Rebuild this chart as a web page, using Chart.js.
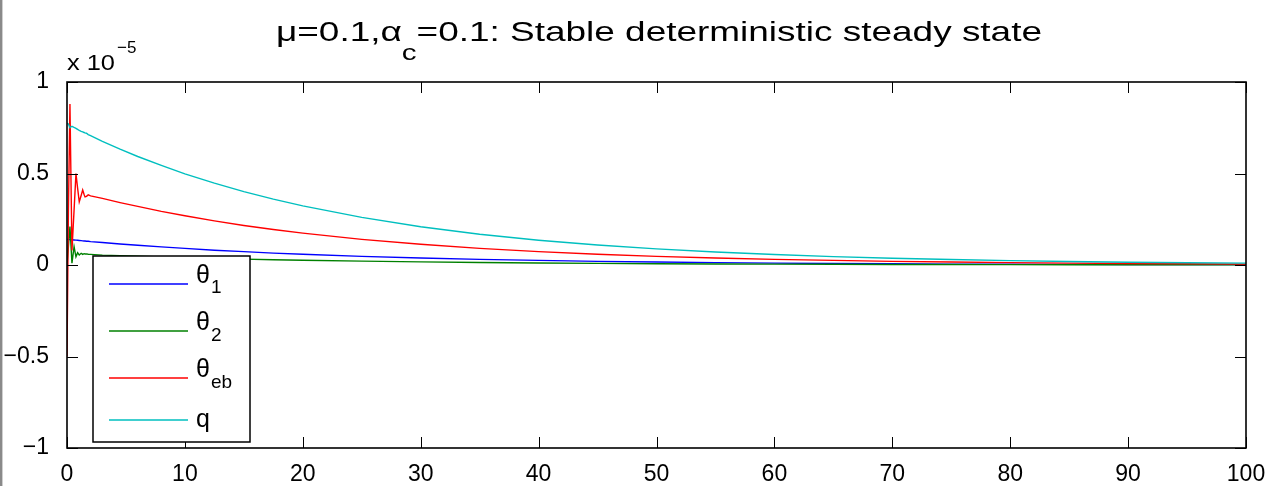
<!DOCTYPE html>
<html>
<head>
<meta charset="utf-8">
<script src="https://cdn.jsdelivr.net/npm/chart.js@4.4.1/dist/chart.umd.min.js"></script>
<style>
  html, body { margin: 0; padding: 0; background: #fff; }
  #wrap { position: relative; width: 1272px; height: 486px; overflow: hidden; }
  #c { position: absolute; left: 0; top: 0; }
  #ov { position: absolute; left: 0; top: 0; pointer-events: none; }
  text { font-family: 'Liberation Sans', Arial, Helvetica, sans-serif; fill: #000; }
</style>
</head>
<body>
<div id="wrap">
  <canvas id="c" width="1272" height="486"></canvas>
  <svg id="ov" width="1272" height="486" xmlns="http://www.w3.org/2000/svg">
    <rect x="0" y="0" width="2" height="486" fill="#8a8a8a"/>
    <rect x="2" y="0" width="1" height="486" fill="#cfcfcf"/>
    <text x="276" y="41" font-size="27.5" textLength="766" lengthAdjust="spacingAndGlyphs">μ=0.1,α<tspan font-size="22" dy="19">c</tspan><tspan dy="-19">=0.1: Stable deterministic steady state</tspan></text>
    <text x="67" y="70" font-size="22" textLength="48" lengthAdjust="spacingAndGlyphs">x 10</text>
    <text x="117" y="53" font-size="17">−5</text>
    <g id="legend">
      <rect x="93" y="256" width="157" height="186" fill="#fff" stroke="#000" stroke-width="1.5"/>
    </g>
  </svg>
</div>
<script>
// ---- data (values in units of 1e-5) ----
const tValues = [0, 0.12, 0.25, 0.42, 0.6, 0.76, 0.9, 1.04, 1.2, 1.33, 1.45, 1.53, 1.65, 1.8, 2,
  3, 4.5, 6, 8, 10, 12.5, 15, 17.5, 20, 25, 30, 35, 40, 45, 50, 55, 60, 65, 70, 75, 80, 85, 90, 95, 100];
const theta1 = [0.14, 0.14, 0.139, 0.138, 0.137, 0.136, 0.135, 0.134, 0.133, 0.132, 0.131, 0.131, 0.130, 0.130, 0.128,
  0.123, 0.115, 0.108, 0.099, 0.091, 0.081, 0.073, 0.065, 0.059, 0.047, 0.038, 0.031, 0.025, 0.020, 0.016,
  0.013, 0.010, 0.008, 0.007, 0.005, 0.004, 0.0035, 0.003, 0.002, 0.002];
const theta2 = [0, 0.1, 0.21, 0.01, 0.1, 0.045, 0.067, 0.055, 0.064, 0.058, 0.062, 0.060, 0.061, 0.059, 0.058,
  0.054, 0.051, 0.048, 0.044, 0.040, 0.036, 0.032, 0.029, 0.026, 0.021, 0.017, 0.0135, 0.011, 0.009, 0.007,
  0.0057, 0.0046, 0.0037, 0.003, 0.0024, 0.0019, 0.0015, 0.0012, 0.001, 0.0008];
const thetaEb = [-0.5, 0.3, 0.88, 0.08, 0.3, 0.5, 0.42, 0.345, 0.38, 0.41, 0.385, 0.372, 0.375, 0.383, 0.378,
  0.364, 0.341, 0.320, 0.293, 0.269, 0.241, 0.216, 0.194, 0.174, 0.140, 0.113, 0.091, 0.073, 0.059, 0.047,
  0.038, 0.031, 0.025, 0.020, 0.016, 0.013, 0.010, 0.008, 0.007, 0.005];
const qValues = [0.775, 0.77, 0.75, 0.758, 0.752, 0.747, 0.741, 0.735, 0.73, 0.727, 0.724, 0.722, 0.72, 0.713, 0.707,
  0.676, 0.633, 0.593, 0.544, 0.498, 0.447, 0.401, 0.360, 0.323, 0.260, 0.209, 0.168, 0.135, 0.109, 0.088,
  0.071, 0.057, 0.046, 0.037, 0.030, 0.024, 0.019, 0.015, 0.012, 0.010];

const xTickValues = [0, 10, 20, 30, 40, 50, 60, 70, 80, 90, 100];
const xTickLabels = ['0', '10', '20', '30', '40', '50', '60', '70', '80', '90', '100'];
const yTickValues = [-1, -0.5, 0, 0.5, 1];
const yTickLabels = ['−1', '−0.5', '0', '0.5', '1'];

const seriesNames = ['θ1', 'θ2', 'θeb', 'q'];
const seriesColors = ['#0000ff', '#008000', '#ff0000', '#00bfbf'];
const seriesData = [theta1, theta2, thetaEb, qValues];

// ---- legend (SVG text, with subscripts) ----
(function buildLegend() {
  const g = document.getElementById('legend');
  const NS = 'http://www.w3.org/2000/svg';
  const rows = [
    { y: 284, main: 'θ', sub: '1', base: 283, subBase: 293 },
    { y: 331, main: 'θ', sub: '2', base: 330, subBase: 341 },
    { y: 378, main: 'θ', sub: 'eb', base: 377, subBase: 388 },
    { y: 420, main: 'q', sub: '', base: 427, subBase: 0 }
  ];
  rows.forEach((r, i) => {
    const ln = document.createElementNS(NS, 'line');
    ln.setAttribute('x1', 109); ln.setAttribute('x2', 188);
    ln.setAttribute('y1', r.y); ln.setAttribute('y2', r.y);
    ln.setAttribute('stroke', seriesColors[i]); ln.setAttribute('stroke-width', 1.3);
    g.appendChild(ln);
    const t = document.createElementNS(NS, 'text');
    t.setAttribute('x', 196); t.setAttribute('y', r.base); t.setAttribute('font-size', 25);
    t.textContent = r.main;
    g.appendChild(t);
    if (r.sub) {
      const s = document.createElementNS(NS, 'text');
      s.setAttribute('x', 211); s.setAttribute('y', r.subBase); s.setAttribute('font-size', 19);
      s.textContent = r.sub;
      g.appendChild(s);
    }
  });
})();

// ---- box + inward ticks plugin ----
const boxPlugin = {
  id: 'matlabBox',
  afterDatasetsDraw(chart) {
    const { ctx, chartArea: a, scales } = chart;
    ctx.save();
    ctx.strokeStyle = '#000';
    ctx.lineWidth = 1;
    const tl = 11;
    ctx.beginPath();
    xTickValues.forEach(v => {
      const px = Math.round(scales.x.getPixelForValue(v)) + 0.5;
      ctx.moveTo(px, a.bottom); ctx.lineTo(px, a.bottom - tl);
      ctx.moveTo(px, a.top); ctx.lineTo(px, a.top + tl);
    });
    yTickValues.forEach(v => {
      const py = Math.round(scales.y.getPixelForValue(v)) + 0.5;
      ctx.moveTo(a.left, py); ctx.lineTo(a.left + tl, py);
      ctx.moveTo(a.right, py); ctx.lineTo(a.right - tl, py);
    });
    ctx.stroke();
    ctx.lineWidth = 1.6;
    ctx.strokeRect(a.left, a.top, a.right - a.left, a.bottom - a.top);
    ctx.restore();
  }
};

Chart.defaults.font.family = "'Liberation Sans', Arial, Helvetica, sans-serif";
Chart.defaults.color = '#000';

new Chart(document.getElementById('c'), {
  type: 'line',
  data: {
    datasets: seriesNames.map((name, i) => ({
      label: name,
      data: tValues.map((t, k) => ({ x: t, y: seriesData[i][k] })),
      borderColor: seriesColors[i],
      backgroundColor: seriesColors[i],
      borderWidth: 1.4,
      pointRadius: 0,
      tension: 0,
      fill: false,
      order: 4 - i
    }))
  },
  options: {
    responsive: false,
    animation: false,
    events: [],
    layout: { padding: { top: 82, right: 26, left: 0, bottom: 0 } },
    plugins: { legend: { display: false }, title: { display: false }, tooltip: { enabled: false } },
    scales: {
      x: {
        type: 'linear', min: 0, max: 100,
        grid: { display: false },
        border: { display: false },
        afterBuildTicks: s => { s.ticks = xTickValues.map(v => ({ value: v })); },
        afterFit: s => { s.height = 38; },
        ticks: {
          font: { size: 23 }, padding: 5, maxRotation: 0, autoSkip: false,
          callback: (v) => { const k = xTickValues.indexOf(v); return k >= 0 ? xTickLabels[k] : ''; }
        }
      },
      y: {
        type: 'linear', min: -1, max: 1,
        grid: { display: false },
        border: { display: false },
        afterBuildTicks: s => { s.ticks = yTickValues.map(v => ({ value: v })); },
        afterFit: s => { s.width = 67; },
        ticks: {
          font: { size: 23 }, padding: 10, autoSkip: false,
          callback: (v) => { const k = yTickValues.indexOf(v); return k >= 0 ? yTickLabels[k] : ''; }
        }
      }
    }
  },
  plugins: [boxPlugin]
});
</script>
</body>
</html>
